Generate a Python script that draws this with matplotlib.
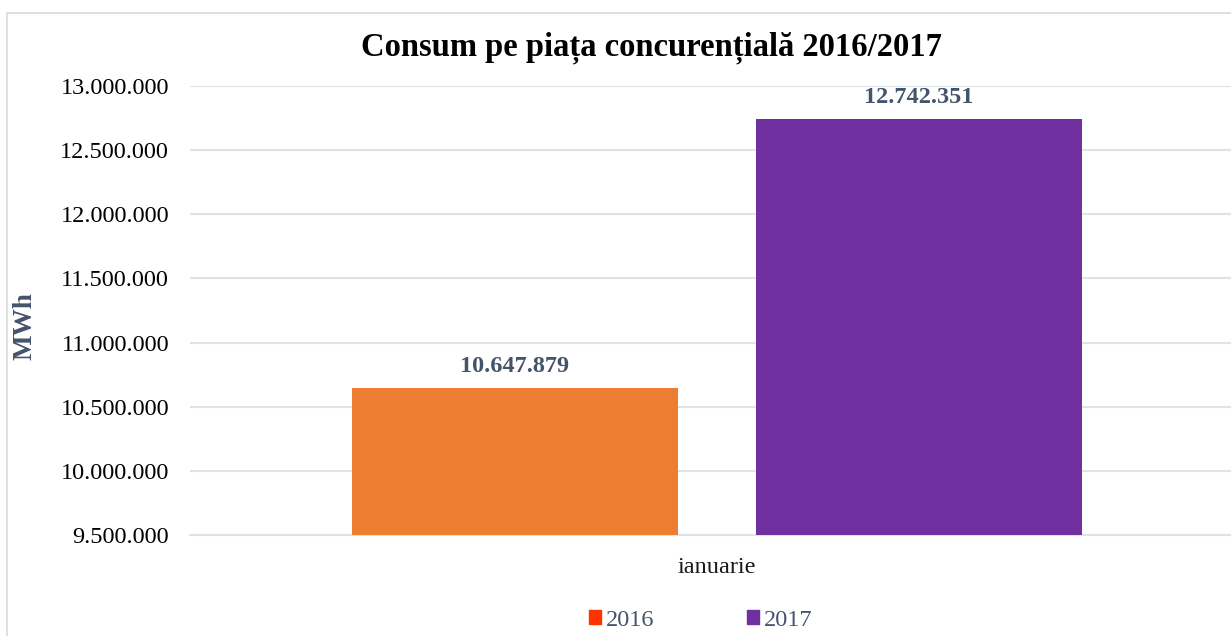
import numpy as np
import matplotlib.pyplot as plt
from matplotlib.patches import Rectangle
from matplotlib.ticker import FuncFormatter

# Chart data
category = "ianuarie"
years = ["2016", "2017"]
values = [10647879, 12742351]
bar_colors = ["#ED7D31", "#7030A0"]
legend_colors = ["#FF3300", "#7030A0"]
y_ticks = [9500000, 10000000, 10500000, 11000000, 11500000, 12000000, 12500000, 13000000]

W, H = 1231, 636
plt.rcParams['font.family'] = ['Liberation Serif', 'DejaVu Serif']

def dotted(v):
    return f"{int(round(v)):,}".replace(",", ".")

fig = plt.figure(figsize=(W / 100, H / 100), dpi=100)

# outer chart frame (only left and top edges show inside the image)
fig.patches.append(Rectangle((7 / W, -0.1), 1.2, (H - 13) / H + 0.1,
                             transform=fig.transFigure, fill=False,
                             edgecolor="#D9D9D9", linewidth=1.2))

ax = fig.add_axes([190 / W, 1 - 535 / H, 1 - 190 / W, (535 - 86) / H])

offsets = np.array([-0.6196, 0.6196])
bars = ax.bar(offsets, values, width=1.0, color=bar_colors, zorder=3)

ax.set_xlim(-1.6166, 1.5767)
ax.set_ylim(y_ticks[0], y_ticks[-1])
ax.set_yticks(y_ticks)
ax.yaxis.set_major_formatter(FuncFormatter(lambda v, p: dotted(v)))
ax.tick_params(axis='y', length=0, pad=15, labelsize=17.5, labelcolor="#000000")
ax.set_xticks([0])
ax.set_xticklabels([category])
ax.tick_params(axis='x', length=0, pad=16, labelsize=17.5, labelcolor="#1a1a1a")
ax.grid(axis='y', color="#DDE3EA", linewidth=1.5, zorder=0)
for s in ax.spines.values():
    s.set_visible(False)
ax.spines['bottom'].set_visible(True)
ax.spines['bottom'].set_color("#DDE3EA")
ax.spines['bottom'].set_linewidth(1.5)

for b, v in zip(bars, values):
    ax.annotate(dotted(v), (b.get_x() + b.get_width() / 2, v),
                xytext=(0, 8), textcoords='offset points', ha='center', va='bottom',
                fontsize=17.5, fontweight='bold', color="#44546A")

ax.set_ylabel("MWh", fontsize=19.5, fontweight='bold', color="#44546A")
ax.yaxis.set_label_coords(-(190 - 38) / (W - 190), (535 - 326) / (535 - 86))

fig.text(651 / W, 1 - 48 / H, "Consum pe piața concurențială 2016/2017",
         ha='center', va='center', fontsize=23.5, fontweight='bold', color="#000000")

handles = [Rectangle((0, 0), 1, 1, color=c) for c in legend_colors]
fig.legend(handles, years, loc='center', bbox_to_anchor=(701 / W, 1 - 620 / H),
           ncol=2, frameon=False, fontsize=17.5, handlelength=0.5, handleheight=0.5,
           handletextpad=0.2, columnspacing=3.8, labelcolor="#44546A")

fig.savefig("out.png", dpi=100)
